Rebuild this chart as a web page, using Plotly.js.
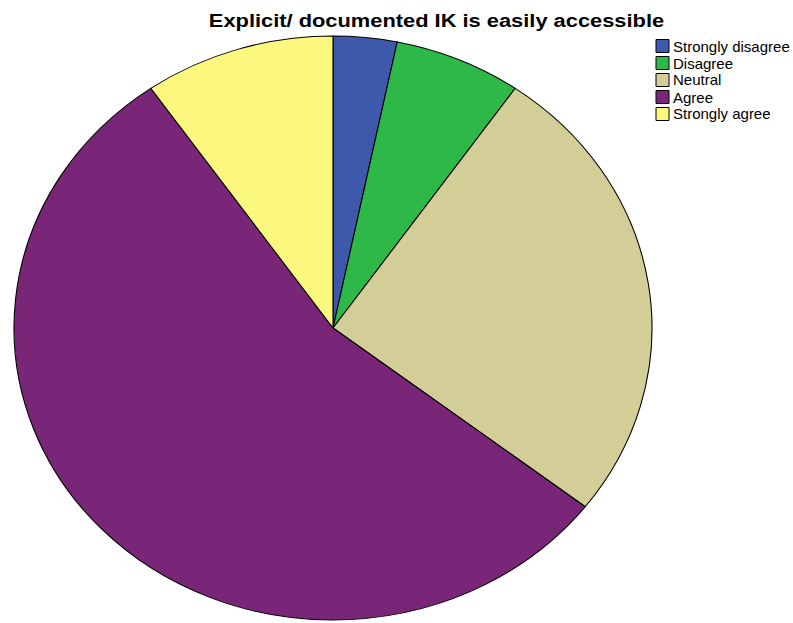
<!DOCTYPE html>
<html>
<head>
<meta charset="utf-8">
<script src="https://cdn.plot.ly/plotly-3.0.1.min.js"></script>
<style>html,body{margin:0;padding:0;background:#fff;}#chart{width:793px;height:623px;}</style>
</head>
<body>
<div id="chart"></div>
<script>
const categories = ["Strongly disagree", "Disagree", "Neutral", "Agree", "Strongly agree"];
const counts = [1, 2, 8, 17, 3];
const colors = ["#3E58AC", "#2EB848", "#D3CE97", "#7A2678", "#FBF87D"];
const chartTitle = "Explicit/ documented IK is easily accessible";

const W = 793, H = 623;
const cx = 333, cy = 328, ry = 292, rx = 319;
const titleCx = 436.5, titleStretch = 1.15;

const trace = {
  type: "pie",
  labels: categories,
  values: counts,
  sort: false,
  direction: "clockwise",
  rotation: 0,
  textinfo: "none",
  hoverinfo: "label+value+percent",
  showlegend: false,
  marker: {colors: colors, line: {color: "#000", width: 1}},
  domain: {x: [(cx - ry) / W, (cx + ry) / W], y: [(H - cy - ry) / H, (H - cy + ry) / H]}
};

// custom legend (compact spacing like the reference)
const legX = 656, legY0 = 46, legStep = 17, sq = 13;
const shapes = categories.map((c, i) => ({
  type: "rect", xref: "paper", yref: "paper",
  x0: legX / W, x1: (legX + sq) / W,
  y0: 1 - (legY0 + legStep * i + sq / 2) / H, y1: 1 - (legY0 + legStep * i - sq / 2) / H,
  fillcolor: colors[i], line: {color: "#000", width: 1}
}));
const annotations = categories.map((c, i) => ({
  text: c, xref: "paper", yref: "paper", showarrow: false,
  x: (legX + sq + 3) / W, xanchor: "left",
  y: 1 - (legY0 + legStep * i) / H, yanchor: "middle",
  font: {size: 15, color: "#000", family: "Liberation Sans, Arial, sans-serif"},
  borderpad: 0
}));

const layout = {
  width: W, height: H,
  margin: {l: 0, r: 0, t: 0, b: 0},
  paper_bgcolor: "#fff",
  font: {family: "Liberation Sans, Arial, sans-serif", color: "#000"},
  title: {
    text: "<b>" + chartTitle + "</b>",
    font: {size: 19, family: "Liberation Sans, Arial, sans-serif", color: "#000"},
    x: titleCx / W, xanchor: "center",
    y: 1 - 20 / H, yanchor: "middle", yref: "container"
  },
  showlegend: false,
  shapes: shapes,
  annotations: annotations
};

Plotly.newPlot("chart", [trace], layout, {displayModeBar: false, staticPlot: true}).then(function () {
  const s = rx / ry;
  const pl = document.querySelector("#chart .pielayer");
  if (pl) pl.setAttribute("transform", "translate(" + (cx * (1 - s)) + ",0) scale(" + s + ",1)");
  const tt = document.querySelector("#chart .g-gtitle");
  if (tt) tt.setAttribute("transform", "translate(" + (titleCx * (1 - titleStretch)) + ",0) scale(" + titleStretch + ",1)");
});
</script>
</body>
</html>
